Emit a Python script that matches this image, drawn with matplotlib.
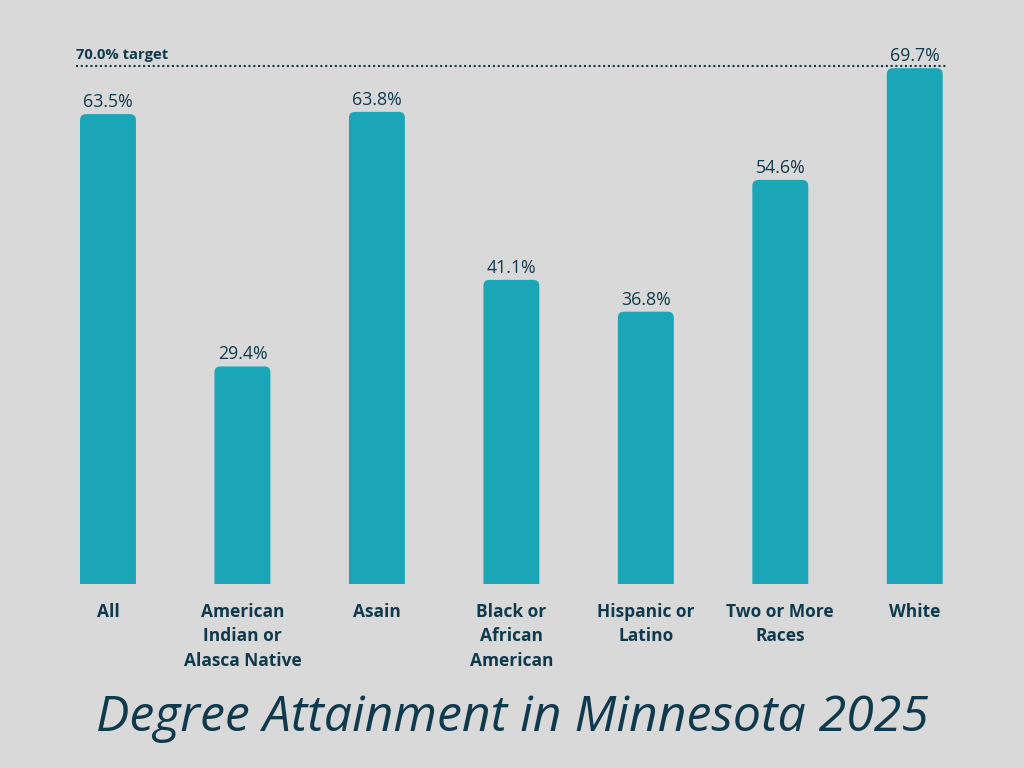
import matplotlib.pyplot as plt
from matplotlib.patches import PathPatch
from matplotlib.path import Path

categories = ['All', 'American\nIndian or\nAlasca Native', 'Asain', 'Black or\nAfrican\nAmerican',
              'Hispanic or\nLatino', 'Two or More\nRaces', 'White']
values = [63.5, 29.4, 63.8, 41.1, 36.8, 54.6, 69.7]
target = 70.0

bg = '#d9d9d9'
bar_col = '#1ba6b8'
txt = '#0f3a4d'

fig = plt.figure(figsize=(10.24, 7.68), dpi=100, facecolor=bg)
# axes in pixel terms: left 40.75, right 982, bottom 584, top 40
ax = fig.add_axes([40.75/1024, 1-584/768, (982-40.75)/1024, (584-40)/768])
ax.set_facecolor(bg)
ax.set_xlim(-0.5, len(values)-0.5)
ax.set_ylim(0, (584-40)/7.4)
for s in ax.spines.values():
    s.set_visible(False)
ax.set_xticks([])
ax.set_yticks([])

w = 0.416
rx, ry = 0.045, 0.81   # corner radius, ~6px each way


def top_rounded_bar(x0, x1, h):
    verts = [(x0, 0), (x0, h-ry), (x0, h), (x0+rx, h), (x1-rx, h), (x1, h), (x1, h-ry),
             (x1, 0), (x0, 0)]
    codes = [Path.MOVETO, Path.LINETO, Path.CURVE3, Path.CURVE3, Path.LINETO, Path.CURVE3,
             Path.CURVE3, Path.LINETO, Path.CLOSEPOLY]
    return PathPatch(Path(verts, codes), fc=bar_col, ec='none')


for i, v in enumerate(values):
    ax.add_patch(top_rounded_bar(i-w/2, i+w/2, v))
    ax.text(i, v+0.4, f'{v:.1f}%', ha='center', va='bottom', fontsize=12.8, color=txt,
            family='Open Sans')
    ax.text(i, -0.035, categories[i], ha='center', va='top', fontsize=12.5, color=txt,
            fontweight='bold', family='Open Sans', linespacing=1.45,
            transform=ax.get_xaxis_transform())

ax.plot([-0.238, 6.23], [target, target], ls=(0, (1, 1.3)), color=txt, lw=1.5)
ax.text(-0.238, target+0.6, f'{target:.1f}% target', ha='left', va='bottom', fontsize=10.6,
        fontweight='bold', color=txt, family='Open Sans')

fig.text(0.5, 1-718/768, 'Degree Attainment in Minnesota 2025', ha='center', va='center',
         fontsize=36, style='italic', color=txt, family='Open Sans')

fig.savefig('out.png', dpi=100, facecolor=bg)
